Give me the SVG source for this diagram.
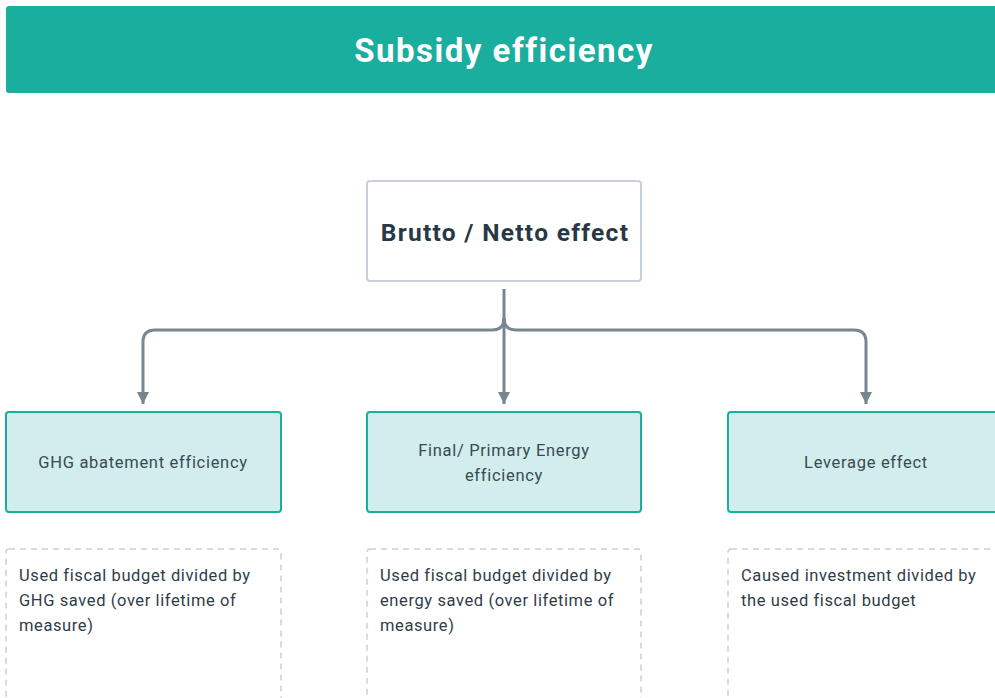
<svg xmlns="http://www.w3.org/2000/svg" width="995" height="698" viewBox="0 0 995 698">
<defs>
<style>
.hdr{fill:#1aae9f}
.title{font-family:Roboto,"Liberation Sans",sans-serif;font-weight:bold;font-size:33px;letter-spacing:1.5px;fill:#ffffff;text-anchor:middle}
.top{fill:#ffffff;stroke:#c8d1d9;stroke-width:2}
.toptxt{font-family:Roboto,"Liberation Sans",sans-serif;font-weight:bold;font-size:24.5px;letter-spacing:1.3px;fill:#293845;text-anchor:middle}
.mid{fill:#d1eeec;stroke:#1aae9f;stroke-width:2}
.midtxt{font-family:Roboto,"Liberation Sans",sans-serif;font-size:16.5px;letter-spacing:0.7px;fill:#3a4955;text-anchor:middle}
.note{fill:#ffffff;stroke:#c8d1d9;stroke-width:1.5;stroke-dasharray:6 5}
.notetxt{font-family:Roboto,"Liberation Sans",sans-serif;font-size:16.5px;letter-spacing:0.6px;fill:#2f3d48}
.conn{fill:none;stroke:#77868f;stroke-width:3}
</style>
<marker id="arr" viewBox="0 0 10 10" refX="10" refY="5" markerWidth="4" markerHeight="4" orient="auto" markerUnits="strokeWidth">
<path d="M0,0 L10,5 L0,10 z" fill="#77868f"/>
</marker>
</defs>
<g id="header">
<rect class="hdr" x="6" y="6" width="995" height="87" rx="3"/>
<text class="title" x="504" y="62">Subsidy efficiency</text>
</g>
<g id="connectors">
<path class="conn" d="M504,289 V404" marker-end="url(#arr)"/>
<path class="conn" d="M504,318 Q504,330 492,330 H155 Q143,330 143,342 V404" marker-end="url(#arr)"/>
<path class="conn" d="M504,318 Q504,330 516,330 H854 Q866,330 866,342 V404" marker-end="url(#arr)"/>
</g>
<g id="node-brutto">
<rect class="top" x="367" y="181" width="274" height="100" rx="3"/>
<text class="toptxt" x="505" y="241">Brutto / Netto effect</text>
</g>
<g id="node-ghg">
<rect class="mid" x="6" y="412" width="275" height="100" rx="3"/>
<text class="midtxt" x="143" y="468">GHG abatement efficiency</text>
</g>
<g id="node-energy">
<rect class="mid" x="367" y="412" width="274" height="100" rx="3"/>
<text class="midtxt" x="504" y="456">Final/ Primary Energy</text>
<text class="midtxt" x="504" y="481">efficiency</text>
</g>
<g id="node-leverage">
<rect class="mid" x="728" y="412" width="280" height="100" rx="3"/>
<text class="midtxt" x="866" y="468">Leverage effect</text>
</g>
<g id="note-ghg">
<rect class="note" x="6" y="549" width="275" height="160" rx="3"/>
<text class="notetxt" x="19" y="581">Used fiscal budget divided by</text>
<text class="notetxt" x="19" y="606">GHG saved (over lifetime of</text>
<text class="notetxt" x="19" y="631">measure)</text>
</g>
<g id="note-energy">
<rect class="note" x="367" y="549" width="274" height="160" rx="3"/>
<text class="notetxt" x="380" y="581">Used fiscal budget divided by</text>
<text class="notetxt" x="380" y="606">energy saved (over lifetime of</text>
<text class="notetxt" x="380" y="631">measure)</text>
</g>
<g id="note-leverage">
<rect class="note" x="728" y="549" width="280" height="160" rx="3"/>
<text class="notetxt" x="741" y="581">Caused investment divided by</text>
<text class="notetxt" x="741" y="606">the used fiscal budget</text>
</g>
</svg>
